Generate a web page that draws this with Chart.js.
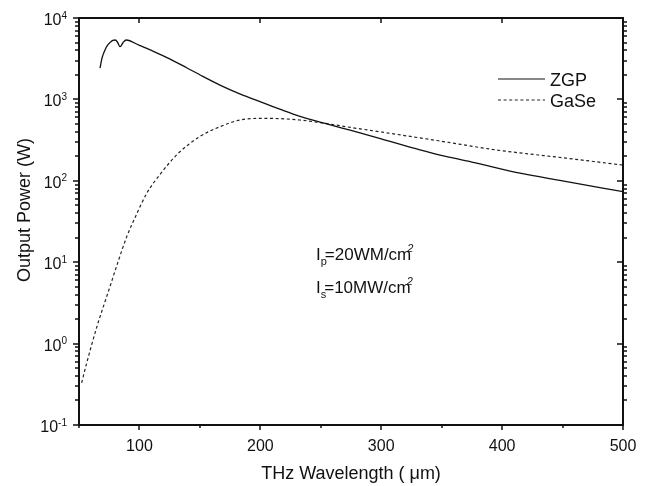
<!DOCTYPE html>
<html>
<head>
<meta charset="utf-8">
<script src="https://cdn.jsdelivr.net/npm/chart.js@4.4.1/dist/chart.umd.min.js"></script>
<style>
  html, body { margin: 0; padding: 0; background: #fff; }
  #wrap { width: 653px; height: 486px; }
</style>
</head>
<body>
<div id="wrap"><canvas id="myChart" width="653" height="486"></canvas></div>
<script>
// ZGP output power vs THz wavelength
const zgpWl = [67.4, 69, 71.5, 73.5, 75.6, 78, 80, 82, 84, 86.5, 89, 100, 111.5, 125, 139, 152, 166.6, 183, 199.7, 216, 232.8, 253.5, 275, 300, 332, 348.6, 375, 414.8, 450, 500];
const zgpPower = [2430, 3200, 4050, 4600, 4980, 5300, 5370, 5000, 4440, 5000, 5370, 4600, 3900, 3150, 2450, 1930, 1500, 1170, 937, 760, 620, 508, 415, 328, 240, 207, 170, 124, 100, 73.5];

// GaSe output power vs THz wavelength
const gaseWl = [52.2, 56, 59.9, 65, 71.5, 75.6, 82, 89.5, 97, 106, 118, 132.2, 150, 166.6, 183, 199.7, 216, 232.8, 253.5, 275, 300, 348.6, 395.5, 450, 500];
const gasePower = [0.33, 0.55, 0.9, 1.65, 3.27, 5.0, 9.8, 20.6, 37, 70, 125, 218, 350, 462, 558, 585, 580, 558, 508, 452, 398, 308, 239, 192, 156];

// tick values
const xTicksMajor = [100, 200, 300, 400, 500];
const xTicksMinor = [50, 150, 250, 350, 450];
const yExponents = [-1, 0, 1, 2, 3, 4];

const FONT = '"Liberation Sans", Arial, Helvetica, sans-serif';

function toPoints(xs, ys) {
    return xs.map((x, i) => ({ x: x, y: ys[i] }));
}

// draws frame, ticks, labels, legend and the annotation text
const framePlugin = {
    id: 'framePlugin',
    afterDraw(chart) {
        const c = chart.ctx;
        const a = chart.chartArea;
        const xs = chart.scales.x;
        const ys = chart.scales.y;
        c.save();
        c.strokeStyle = '#111';
        c.fillStyle = '#111';

        // frame
        c.lineWidth = 2;
        c.strokeRect(a.left, a.top, a.right - a.left, a.bottom - a.top);

        // x ticks (bottom outward, top inward for majors)
        c.lineWidth = 1.5;
        c.beginPath();
        xTicksMajor.forEach(v => {
            const px = Math.round(xs.getPixelForValue(v));
            c.moveTo(px, a.bottom); c.lineTo(px, a.bottom + 5);
            c.moveTo(px, a.top); c.lineTo(px, a.top + 5);
        });
        xTicksMinor.forEach(v => {
            const px = Math.round(xs.getPixelForValue(v));
            c.moveTo(px, a.bottom); c.lineTo(px, a.bottom + 3);
        });
        // y ticks
        yExponents.forEach(e => {
            const py = Math.round(ys.getPixelForValue(Math.pow(10, e)));
            c.moveTo(a.left - 6, py); c.lineTo(a.left, py);
            c.moveTo(a.right - 6, py); c.lineTo(a.right, py);
            if (e < 4) {
                for (let m = 2; m <= 9; m++) {
                    const pm = Math.round(ys.getPixelForValue(m * Math.pow(10, e)));
                    c.moveTo(a.left - 4, pm); c.lineTo(a.left, pm);
                    c.moveTo(a.right, pm); c.lineTo(a.right + 4, pm);
                }
            }
        });
        c.stroke();

        // x tick labels
        c.font = '16px ' + FONT;
        c.textAlign = 'center';
        c.textBaseline = 'alphabetic';
        xTicksMajor.forEach(v => {
            c.fillText(String(v), xs.getPixelForValue(v), a.bottom + 26);
        });

        // y tick labels 10^n
        yExponents.forEach(e => {
            const py = ys.getPixelForValue(Math.pow(10, e));
            const expText = String(e);
            c.font = '10px ' + FONT;
            const ew = c.measureText(expText).width;
            const right = a.left - 12;
            c.textAlign = 'left';
            c.fillText(expText, right - ew, py + 0.5);
            c.font = '16px ' + FONT;
            c.textAlign = 'right';
            c.fillText('10', right - ew, py + 7);
        });

        // axis titles
        c.font = '18px ' + FONT;
        c.textAlign = 'center';
        c.fillText('THz Wavelength ( \u03bcm)', (a.left + a.right) / 2, 479);
        c.save();
        c.translate(30, 210);
        c.rotate(-Math.PI / 2);
        c.fillText('Output Power (W)', 0, 0);
        c.restore();

        // legend
        const legendY = [79, 100];
        chart.data.datasets.forEach((ds, i) => {
            const ly = legendY[i];
            c.save();
            c.lineWidth = 1.2;
            c.strokeStyle = ds.borderColor;
            c.setLineDash(ds.borderDash || []);
            c.beginPath();
            c.moveTo(498, ly); c.lineTo(545, ly);
            c.stroke();
            c.restore();
            c.font = '18px ' + FONT;
            c.textAlign = 'left';
            c.fillText(ds.label, 550, ly + 6.5);
        });

        // annotation
        drawIntensity(c, 'I', 'p', '=20WM/cm', 316, 260);
        drawIntensity(c, 'I', 's', '=10MW/cm', 316, 293);
        c.restore();
    }
};

function drawIntensity(c, base, sub, rest, x, y) {
    c.textAlign = 'left';
    c.font = '17px ' + FONT;
    c.fillText(base, x, y);
    let px = x + c.measureText(base).width;
    c.font = '11px ' + FONT;
    c.fillText(sub, px, y + 5);
    px += c.measureText(sub).width - 2;
    c.font = '17px ' + FONT;
    c.fillText(rest, px, y);
    px += c.measureText(rest).width;
    c.font = 'italic 11px ' + FONT;
    c.fillText('2', px - 4, y - 8);
}

var ctx = document.getElementById('myChart').getContext('2d');
var myChart = new Chart(ctx, {
    type: 'line',
    data: {
        datasets: [{
            label: 'ZGP',
            data: toPoints(zgpWl, zgpPower),
            borderColor: '#111',
            borderWidth: 1.3,
            pointRadius: 0,
            cubicInterpolationMode: 'monotone'
        }, {
            label: 'GaSe',
            data: toPoints(gaseWl, gasePower),
            borderColor: '#222',
            borderWidth: 1.2,
            borderDash: [3, 2.6],
            pointRadius: 0,
            cubicInterpolationMode: 'monotone'
        }]
    },
    options: {
        responsive: false,
        animation: false,
        layout: {
            padding: { left: 79, right: 30, top: 18, bottom: 61 }
        },
        plugins: {
            legend: { display: false },
            tooltip: { enabled: false }
        },
        scales: {
            x: { type: 'linear', min: 50, max: 500, display: false },
            y: { type: 'logarithmic', min: 0.1, max: 10000, display: false }
        }
    },
    plugins: [framePlugin]
});
</script>
</body>
</html>
